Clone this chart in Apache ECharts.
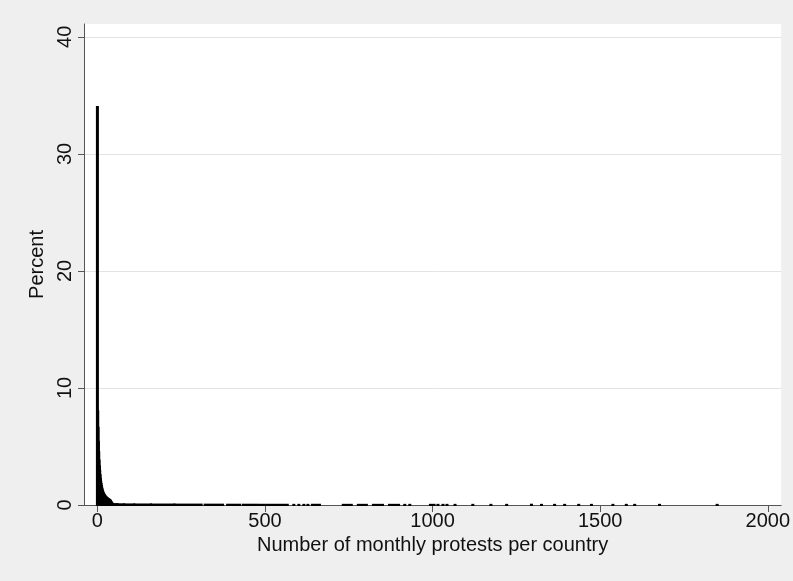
<!DOCTYPE html>
<html>
<head>
<meta charset="utf-8">
<title>Monthly protests histogram</title>
<script src="https://cdn.jsdelivr.net/npm/echarts@6/dist/echarts.min.js"></script>
<style>
  html, body { margin: 0; padding: 0; background: #efefef; }
  #chart { width: 793px; height: 581px; }
</style>
</head>
<body>
<div id="chart"></div>
<script>
// percent per bin of width 1, bins 0..45
const headPct = [
  34.0, 8.0, 6.6, 5.4, 4.5, 3.8, 3.3, 2.9, 2.55, 2.25,
  2.0, 1.8, 1.62, 1.47, 1.34, 1.23, 1.13, 1.05, 0.98, 0.92,
  0.87, 0.82, 0.78, 0.74, 0.70, 0.67, 0.64, 0.61, 0.58, 0.56,
  0.54, 0.52, 0.50, 0.48, 0.46, 0.44, 0.42, 0.40, 0.37, 0.33,
  0.28, 0.23, 0.18, 0.14, 0.11, 0.09
];

// stretches of the tail where every bin holds a few observations
const rangeStart = [46, 60, 80, 110, 160, 230, 320, 387, 434, 482, 500, 640, 732, 777, 822, 870, 992];
const rangeEnd   = [60, 80, 110, 160, 230, 311, 375, 426, 476, 494, 568, 664, 759, 804, 852, 900, 1006];
const rangePct   = [0.08, 0.06, 0.05, 0.045, 0.04, 0.035, 0.03, 0.025, 0.025, 0.02, 0.02, 0.02, 0.015, 0.015, 0.015, 0.015, 0.015];

// isolated single observations further out
const singleX = [586, 601, 616, 628, 917, 932, 1016, 1031, 1043, 1067, 1120, 1174, 1221, 1295, 1325, 1364, 1394, 1436, 1474, 1538, 1578, 1603, 1677, 1849];
const singlePct = [0.0125, 0.0125, 0.0125, 0.0125, 0.0125, 0.0125, 0.0125, 0.0125, 0.0125, 0.0125, 0.0125, 0.0125, 0.0125, 0.025, 0.0125, 0.0125, 0.0125, 0.0125, 0.0125, 0.0125, 0.0125, 0.0125, 0.0125, 0.0125];

const xTicks = [0, 500, 1000, 1500, 2000];
const yTicks = [0, 10, 20, 30, 40];

// build [start, end, percent] items
const bins = [];
headPct.forEach((p, i) => bins.push([i - 0.5, i + 0.5, p]));
rangeStart.forEach((s, i) => bins.push([s, rangeEnd[i], rangePct[i]]));
singleX.forEach((x, i) => bins.push([x - 0.5, x + 0.5, singlePct[i]]));

const font = 'Liberation Sans, Arial, sans-serif';
const plain = v => String(v);
const chart = echarts.init(document.getElementById('chart'));

chart.setOption({
  animation: false,
  backgroundColor: '#efefef',
  grid: {
    left: 84, right: 11, top: 24, bottom: 76,
    show: true, backgroundColor: '#ffffff', borderWidth: 0
  },
  xAxis: {
    type: 'value',
    min: -40, max: 2040,
    name: 'Number of monthly protests per country',
    nameLocation: 'middle',
    nameGap: 27,
    nameTextStyle: { fontFamily: font, fontSize: 20, color: '#111' },
    axisLine: { show: true, onZero: false, lineStyle: { color: '#555', width: 1 } },
    axisTick: { show: true, length: 7, customValues: xTicks, lineStyle: { color: '#555' } },
    axisLabel: { customValues: xTicks, formatter: plain, margin: 6, fontFamily: font, fontSize: 20, color: '#111' },
    splitLine: { show: false }
  },
  yAxis: {
    type: 'value',
    min: 0, max: 41.1, interval: 10,
    name: 'Percent',
    nameLocation: 'middle',
    nameRotate: 90,
    nameGap: 30,
    nameTextStyle: { fontFamily: font, fontSize: 20, color: '#111' },
    axisLine: { show: true, onZero: false, lineStyle: { color: '#555', width: 1 } },
    axisTick: { show: true, length: 6, customValues: yTicks, lineStyle: { color: '#555' } },
    axisLabel: { customValues: yTicks, formatter: plain, rotate: 90, margin: 9, fontFamily: font, fontSize: 20, color: '#111' },
    splitLine: { show: true, lineStyle: { color: '#e3e3e3', width: 1 } }
  },
  series: [{
    type: 'custom',
    data: bins,
    encode: { x: [0, 1], y: 2 },
    renderItem: function (params, api) {
      const top = api.coord([api.value(0), api.value(2)]);
      const base = api.coord([api.value(1), 0]);
      let x = top[0];
      let w = base[0] - top[0];
      if (w < 1) { x = (top[0] + base[0]) / 2 - 0.5; w = 1; }
      return {
        type: 'rect',
        shape: { x: x, y: top[1], width: w, height: base[1] - top[1] },
        style: { fill: '#000', stroke: '#000', lineWidth: 2 }
      };
    }
  }]
});
</script>
</body>
</html>
